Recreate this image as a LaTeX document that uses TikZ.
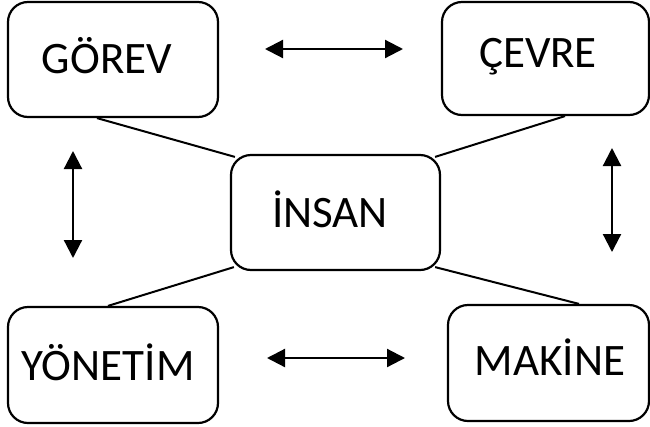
\documentclass[tikz,border=0pt]{standalone}
\usepackage{fontspec}
\setmainfont{Carlito}
\usetikzlibrary{arrows.meta,calc}
\begin{document}
\begin{tikzpicture}[x=1pt,y=-1pt,
  box/.style={draw, line width=2.2pt, rounded corners=20pt, fill=white, inner sep=0pt},
  lbl/.style={anchor=base, inner sep=0pt, font=\fontsize{45}{54}\selectfont},
  link/.style={line width=2pt},
  rel/.style={line width=2.2pt, {Triangle[length=18pt,width=18pt]}-{Triangle[length=18pt,width=18pt]}}]
\useasboundingbox (0,0) rectangle (650,426);

% boxes
\node[box, minimum width=210pt, minimum height=115pt] (gorev)   at (113,59.5)  {};
\node[box, minimum width=207pt, minimum height=113pt] (cevre)   at (545.5,58.5) {};
\node[box, minimum width=209pt, minimum height=115pt] (insan)   at (335.5,212.5) {};
\node[box, minimum width=210pt, minimum height=116pt] (yonetim) at (113,365)   {};
\node[box, minimum width=201pt, minimum height=116pt] (makine)  at (548.5,363) {};

% labels
\node[lbl] (gorevT)   at (107,73)  {GÖREV};
\node[lbl] (cevreT)   at (538,67)  {ÇEVRE};
\node[lbl] (insanT)   at (330,227) {İNSAN};
\node[lbl] (yonetimT) at (108,380) {YÖNETİM};
\node[lbl] (makineT)  at (550,375) {MAKİNE};

% links to the centre box
\draw[link] ($(gorev.south)+(-16,0)$)   -- ($(insan.north west)+(5,3)$);
\draw[link] ($(cevre.south)+(19.5,0)$)  -- ($(insan.north east)+(-6,3)$);
\draw[link] ($(yonetim.north)+(-5,0)$)  -- ($(insan.south west)+(4,-4)$);
\draw[link] ($(makine.north)+(30.5,0)$) -- ($(insan.south east)+(-6,-4)$);

% two-way arrows between neighbours
\coordinate (t1) at (265,49);  \coordinate (t2) at (403,49);
\coordinate (b1) at (267,358); \coordinate (b2) at (405,358);
\coordinate (l1) at (73,151);  \coordinate (l2) at (73,258);
\coordinate (r1) at (612,148); \coordinate (r2) at (612,252);
\draw[rel] (t1) -- (t2);
\draw[rel] (b1) -- (b2);
\draw[rel] (l1) -- (l2);
\draw[rel] (r1) -- (r2);
\end{tikzpicture}
\end{document}
